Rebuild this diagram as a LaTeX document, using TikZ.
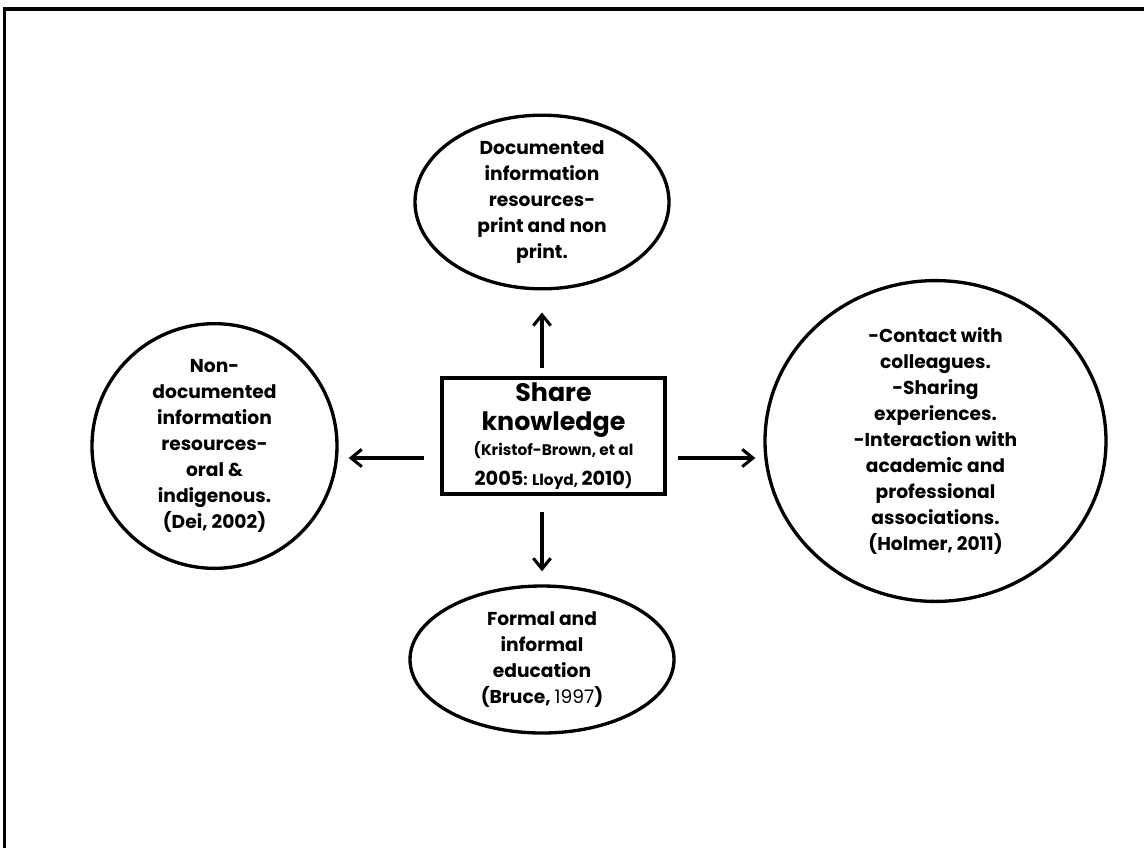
\documentclass[tikz,border=0pt]{standalone}
\usepackage{fontspec}
\setmainfont{Poppins}
\usetikzlibrary{shapes.geometric,arrows.meta}
\begin{document}
\begin{tikzpicture}[x=0.75pt,y=-0.75pt,
  bubble/.style={draw,line width=2.5pt,ellipse,inner sep=0pt,align=center,
    font=\bfseries\fontsize{14}{19.5}\selectfont},
  mainbox/.style={draw,line width=2.5pt,rectangle,inner sep=0pt,align=center,
    minimum width=167.25pt,minimum height=87pt,
    font=\bfseries\fontsize{19}{21.75}\selectfont},
  arr/.style={line width=2.3pt,-{Straight Barb[length=8pt,width=13pt]}},
  frame/.style={line width=2.4pt}]
\useasboundingbox (0,0) rectangle (1144,851);
\draw[frame] (1144,9) -- (4.5,9) -- (4.5,848);

\node[bubble,minimum width=190.5pt,minimum height=120.75pt] (top) at (542,202)
  {Documented\\information\\resources-\\print and non\\print.};
\node[bubble,minimum width=183.75pt,minimum height=151.5pt] (left) at (214.5,446)
  {Non-\\documented\\information\\resources-\\oral \&\\indigenous.\\(Dei, 2002)};
\node[bubble,minimum width=255.75pt,minimum height=201pt] (right) at (935.5,441)
  {-Contact with\\colleagues.\\-Sharing\\experiences.\\-Interaction with\\academic and\\professional\\associations.\\(Holmer, 2011)};
\node[bubble,minimum width=198pt,minimum height=110.25pt] (bot) at (542,659.5)
  {Formal and\\informal\\education\\(Bruce, {\mdseries 1997})};
\node[mainbox] (box) at (553.5,436)
  {Share\\knowledge\\[-2.5pt]
   {\fontsize{11.5}{13}\selectfont (Kristof-Brown, et al}\\[0.5pt]
   {\fontsize{14.5}{16}\selectfont 2005{\fontsize{11.5}{13}\selectfont : Lloyd, }2010{\fontsize{11.5}{13}\selectfont )}}};

\coordinate (la) at ([yshift=-16.5pt]box.west);
\coordinate (ra) at ([yshift=-16.5pt]box.east);
\draw[arr,shorten <=6pt,shorten >=16.5pt] (box.north -| top.south) -- (top.south);
\draw[arr,shorten <=12pt,shorten >=9.75pt] (box.south -| bot.north) -- (bot.north);
\draw[arr,shorten <=12pt,shorten >=7.5pt] (la) -- (la -| left.east);
\draw[arr,shorten <=8.25pt,shorten >=6pt] (ra) -- (ra -| right.west);
\end{tikzpicture}
\end{document}
